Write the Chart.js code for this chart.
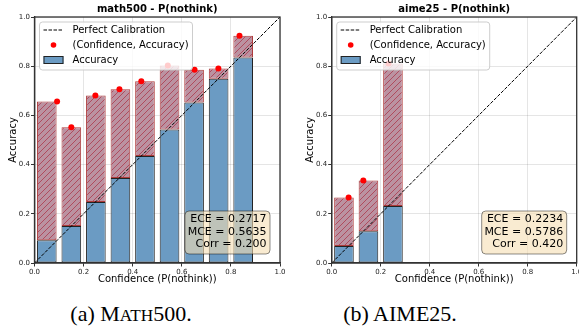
<!DOCTYPE html>
<html>
<head>
<meta charset="utf-8">
<script src="https://cdn.jsdelivr.net/npm/chart.js@4.4.0/dist/chart.umd.min.js"></script>
<style>
  html, body { margin: 0; padding: 0; background: #fff; }
  #wrap { position: relative; width: 579px; height: 328px; overflow: hidden; }
  #left { position: absolute; left: 0; top: 0; }
  #rightBox { position: absolute; left: 290px; top: 0; width: 289px; height: 290px; overflow: hidden; }
  .cap { position: absolute; top: 303px; font-family: "Liberation Serif", "Times New Roman", serif;
         font-size: 22px; line-height: 22px; color: #000; transform: translateX(-50%); white-space: nowrap; }
  .sc { font-size: 0.78em; }
</style>
</head>
<body>
<div id="wrap">
  <canvas id="left" width="290" height="290"></canvas>
  <div id="rightBox"><canvas id="right" width="300" height="290"></canvas></div>
  <div class="cap" style="left:131px">(a) M<span class="sc">ATH</span>500.</div>
  <div class="cap" style="left:400px">(b) AIME25.</div>
</div>
<script>
// --- data ---
const math500Bins = [0.05, 0.15, 0.25, 0.35, 0.45, 0.55, 0.65, 0.75, 0.85];
const math500Acc  = [0.092, 0.150, 0.248, 0.346, 0.435, 0.543, 0.652, 0.749, 0.835];
const math500Conf = [0.656, 0.552, 0.681, 0.706, 0.739, 0.803, 0.786, 0.791, 0.924];
const math500Stats = ["ECE = 0.2717", "MCE = 0.5635", "Corr = 0.200"];

const aime25Bins = [0.05, 0.15, 0.25];
const aime25Acc  = [0.069, 0.129, 0.232];
const aime25Conf = [0.266, 0.335, 0.811];
const aime25Stats = ["ECE = 0.2234", "MCE = 0.5786", "Corr = 0.420"];

const axisTicks = [0.0, 0.2, 0.4, 0.6, 0.8, 1.0];
const legendLabels = ["Perfect Calibration", "(Confidence, Accuracy)", "Accuracy"];

const FONT = "DejaVu Sans";
const BLUE = "#6b9bc3";

function hatchPattern(ctx) {
    const s = 6;
    const c = document.createElement("canvas");
    c.width = s; c.height = s;
    const g = c.getContext("2d");
    g.fillStyle = "#bb92a1";
    g.fillRect(0, 0, s, s);
    g.strokeStyle = "rgba(170,45,65,0.7)";
    g.lineWidth = 1;
    g.beginPath();
    g.moveTo(0, s); g.lineTo(s, 0);
    g.moveTo(-1, 1); g.lineTo(1, -1);
    g.moveTo(s - 1, s + 1); g.lineTo(s + 1, s - 1);
    g.stroke();
    return ctx.createPattern(c, "repeat");
}

function roundRect(ctx, x, y, w, h, r) {
    ctx.beginPath();
    ctx.moveTo(x + r, y);
    ctx.arcTo(x + w, y, x + w, y + h, r);
    ctx.arcTo(x + w, y + h, x, y + h, r);
    ctx.arcTo(x, y + h, x, y, r);
    ctx.arcTo(x, y, x + w, y, r);
    ctx.closePath();
}

// spines, legend, stats box and title
const deco = {
    id: "deco",
    afterDatasetsDraw(chart, args, opts) {
        const { ctx, chartArea: a } = chart;
        ctx.save();
        ctx.strokeStyle = "#333";
        ctx.lineWidth = 1.3;
        ctx.strokeRect(a.left, a.top, a.right - a.left, a.bottom - a.top);

        // legend
        const lx = a.left + 5, ly = a.top + 5;
        roundRect(ctx, lx, ly, 153, 48, 3);
        ctx.fillStyle = "rgba(255,255,255,0.8)";
        ctx.fill();
        ctx.strokeStyle = "rgba(200,200,200,0.9)";
        ctx.lineWidth = 1;
        ctx.stroke();

        ctx.strokeStyle = "#000";
        ctx.setLineDash([3.5, 1.5]);
        ctx.beginPath();
        ctx.moveTo(lx + 4, ly + 8); ctx.lineTo(lx + 24, ly + 8);
        ctx.stroke();
        ctx.setLineDash([]);

        ctx.fillStyle = "red";
        ctx.beginPath();
        ctx.arc(lx + 14, ly + 23, 2.8, 0, Math.PI * 2);
        ctx.fill();

        ctx.fillStyle = BLUE;
        ctx.fillRect(lx + 4, ly + 34, 20, 8);
        ctx.strokeStyle = "#222";
        ctx.strokeRect(lx + 4.5, ly + 34.5, 19, 7);

        ctx.fillStyle = "#000";
        ctx.font = "10px '" + FONT + "'";
        ctx.textBaseline = "middle";
        ctx.textAlign = "left";
        legendLabels.forEach((t, i) => ctx.fillText(t, lx + 33, ly + 8 + i * 15));

        // stats box
        const bw = 85, bh = 43;
        const bx = a.right - 10 - bw, by = a.bottom - 9 - bh;
        roundRect(ctx, bx, by, bw, bh, 4);
        ctx.fillStyle = "rgba(245,222,179,0.6)";
        ctx.fill();
        ctx.strokeStyle = "rgba(0,0,0,0.45)";
        ctx.stroke();
        ctx.fillStyle = "#000";
        ctx.font = "11px '" + FONT + "'";
        ctx.textAlign = "right";
        opts.stats.forEach((t, i) => ctx.fillText(t, bx + bw - 3.5, by + 8.5 + i * 12.5));

        // title
        ctx.font = "bold 10px '" + FONT + "'";
        ctx.textAlign = "center";
        ctx.fillText(opts.title, (a.left + a.right) / 2, 9);
        ctx.restore();
    }
};

function makeChart(id, bins, acc, conf, title, stats, axisW, yTitlePad, padRight) {
    const ctx = document.getElementById(id).getContext("2d");
    const tickFont = { family: FONT, size: 7 };
    const titleFont = { family: FONT, size: 10 };
    return new Chart(ctx, {
        type: "bar",
        data: {
            datasets: [
                {
                    type: "line",
                    data: [{ x: 0, y: 0 }, { x: 1, y: 1 }],
                    borderColor: "#000",
                    borderWidth: 1,
                    borderDash: [3.5, 1.5],
                    pointRadius: 0,
                    order: 0
                },
                {
                    type: "scatter",
                    data: acc.map((v, i) => ({ x: v, y: conf[i] })),
                    backgroundColor: "red",
                    borderWidth: 0,
                    pointRadius: 3,
                    order: 1
                },
                {
                    data: bins.map((b, i) => ({ x: b, y: [acc[i], conf[i]] })),
                    backgroundColor: hatchPattern(ctx),
                    borderColor: "rgba(160,25,25,0.85)",
                    borderWidth: 1,
                    borderSkipped: false,
                    grouped: false,
                    categoryPercentage: 1,
                    barPercentage: 0.8,
                    order: 3
                },
                {
                    data: bins.map((b, i) => ({ x: b, y: acc[i] })),
                    backgroundColor: BLUE,
                    borderColor: "#222",
                    borderWidth: 1,
                    borderSkipped: false,
                    grouped: false,
                    categoryPercentage: 1,
                    barPercentage: 0.8,
                    order: 2
                }
            ]
        },
        options: {
            responsive: false,
            animation: false,
            devicePixelRatio: 1,
            layout: { padding: { top: 17, right: padRight, bottom: 0, left: 0 } },
            plugins: {
                legend: { display: false },
                tooltip: { enabled: false },
                deco: { title: title, stats: stats }
            },
            scales: {
                x: {
                    type: "linear",
                    min: 0, max: 1,
                    offset: false,
                    afterBuildTicks: s => { s.ticks = axisTicks.map(v => ({ value: v })); },
                    afterFit: s => { s.height = 27; },
                    ticks: { font: tickFont, color: "#222", padding: 1, maxRotation: 0,
                             callback: v => v.toFixed(1) },
                    grid: { color: "rgba(0,0,0,0.1)", tickColor: "#333", tickLength: 3.5, offset: false },
                    border: { color: "#333", width: 1.3 },
                    title: { display: true, text: "Confidence (P(nothink))", font: titleFont,
                             color: "#000", padding: { top: 0, bottom: 5 } }
                },
                y: {
                    min: 0, max: 1,
                    afterBuildTicks: s => { s.ticks = axisTicks.map(v => ({ value: v })); },
                    afterFit: s => { s.width = axisW; },
                    ticks: { font: tickFont, color: "#222", padding: 1,
                             callback: v => v.toFixed(1) },
                    grid: { color: "rgba(0,0,0,0.1)", tickColor: "#333", tickLength: 3.5 },
                    border: { color: "#333", width: 1.3 },
                    title: { display: true, text: "Accuracy", font: titleFont,
                             color: "#000", padding: { top: yTitlePad, bottom: 0 } }
                }
            }
        },
        plugins: [deco]
    });
}

makeChart("left", math500Bins, math500Acc, math500Conf, "math500 - P(nothink)", math500Stats, 34.5, 7, 10);
makeChart("right", aime25Bins, aime25Acc, aime25Conf, "aime25 - P(nothink)", aime25Stats, 41.7, 14, 13.3);
</script>
</body>
</html>
